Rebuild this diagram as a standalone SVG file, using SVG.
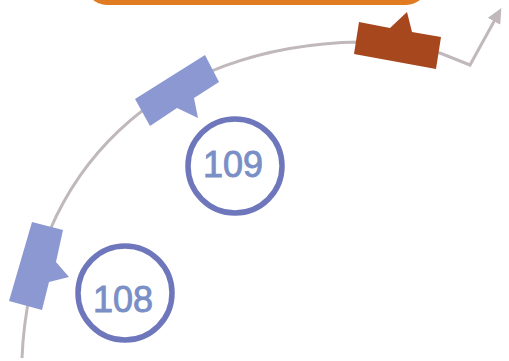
<svg xmlns="http://www.w3.org/2000/svg" width="509" height="361" viewBox="0 0 509 361">
<style>
.conn{fill:none;stroke:#c0b8ba;stroke-width:3;stroke-linejoin:miter}
.bub{fill:#8c98d2}
.brown{fill:#a6471d}
.ring{fill:none;stroke:#6e77bb;stroke-width:5.5}
.num{font-family:"Liberation Sans",Arial,sans-serif;font-size:36px;fill:#7a8fc6;stroke:#7a8fc6;stroke-width:0.9;text-anchor:middle}
</style>
<defs>
<marker id="ah" markerWidth="16" markerHeight="16" refX="6" refY="7" orient="auto" markerUnits="userSpaceOnUse">
<path d="M0,0 L15,7 L0,14 Z" fill="#c0b8ba"/>
</marker>
</defs>
<rect width="509" height="361" fill="#ffffff"/>
<g id="banner">
<rect x="85" y="-40" width="343" height="45" rx="22" fill="#e07b22"/>
</g>
<g id="connectors">
<path class="conn" d="M22,358 C30,170 160,45 360,42 L440,53 L470,65 L497,16" marker-end="url(#ah)"/>
</g>
<g id="bubble-108">
<polygon class="bub" points="32,222 63,230 56,262 69,277 49,282 42,310 9,301"/>
</g>
<g id="bubble-109">
<polygon class="bub" points="135,99 205,55 219,82 194,98 198,118 177,108 150,126"/>
</g>
<g id="bubble-top">
<polygon class="brown" points="359,22 390,28 407,12 412,32 441,37 436,69 354,54"/>
</g>
<g id="node-109">
<circle class="ring" cx="235" cy="166" r="47"/>
<text class="num" x="233" y="177">109</text>
</g>
<g id="node-108">
<circle class="ring" cx="125" cy="293" r="47"/>
<text class="num" x="123" y="312">108</text>
</g>
</svg>
